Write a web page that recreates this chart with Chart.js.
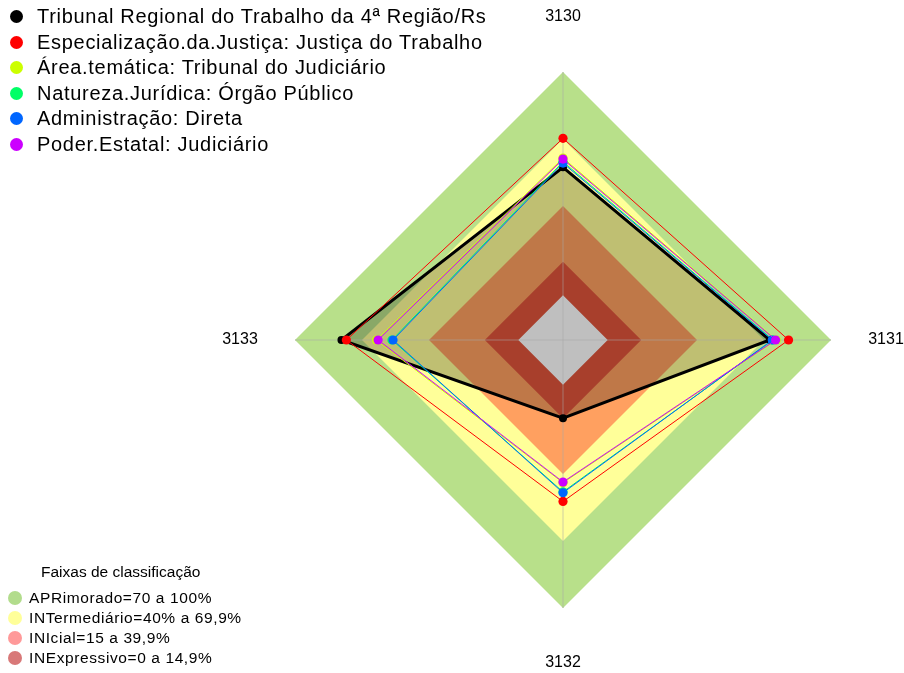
<!DOCTYPE html>
<html>
<head>
<meta charset="utf-8">
<script src="https://cdn.jsdelivr.net/npm/chart.js@4/dist/chart.umd.min.js"></script>
<style>
  html, body { margin: 0; padding: 0; background: #fff; }
  #wrap { position: relative; width: 904px; height: 673px; overflow: hidden; font-family: Arial, "Liberation Sans", sans-serif; }
  #c { position: absolute; left: 0; top: 0; }
  .leg { position: absolute; color: #000; white-space: nowrap; }
  .row { display: flex; align-items: center; }
  .dot { display: inline-block; border-radius: 50%; flex: none; }
</style>
</head>
<body>
<div id="wrap">
  <canvas id="c" width="904" height="673"></canvas>
  <div id="legTop" class="leg" style="left:0; top:4px; font-size:20px; letter-spacing:0.7px;"></div>
  <div id="legBands" class="leg" style="left:0; top:561px; font-size:15.5px; letter-spacing:0.6px;"></div>
</div>
<script>
// ---- data ----
const axisLabels = ["3130", "3131", "3132", "3133"];
const seriesNames = [
  "Tribunal Regional do Trabalho da 4ª Região/Rs",
  "Especialização.da.Justiça: Justiça do Trabalho",
  "Área.temática: Tribunal do Judiciário",
  "Natureza.Jurídica: Órgão Público",
  "Administração: Direta",
  "Poder.Estatal: Judiciário"
];
const trt4            = [57.3, 72.6, 15.0, 79.2];
const justicaTrabalho = [70.3, 81.0, 52.3, 77.0];
const areaTematica    = [61.5, 75.5, 43.9, 63.5];
const naturezaJuridica= [59.8, 74.0, 48.0, 56.6];
const administracao   = [59.2, 73.7, 48.4, 56.1];
const poderEstatal    = [61.0, 75.2, 43.6, 62.8];
const bandUpper = [100, 70, 40, 15];
const bandBase = 0;
const bandTitle = "Faixas de classificação";
const bandNames = ["APRimorado=70 a 100%", "INTermediário=40% a 69,9%", "INIcial=15 a 39,9%", "INExpressivo=0 a 14,9%"];
const scaleMin = -20;
const scaleMax = 100;

// ---- styles ----
const seriesColors = ["#000000", "#FF0000", "#CCFF00", "#00FF66", "#0066FF", "#CC00FF"];
const bandFill = ["#B8E08A", "#FFFF99", "#FFA060", "#E0553B"];
const bandLegendColors = ["#B2DC8C", "#FFFF99", "#FF9999", "#D87878"];

const seriesData = [trt4, justicaTrabalho, areaTematica, naturezaJuridica, administracao, poderEstatal];

const datasets = [];
seriesData.forEach((d, i) => {
  const isMain = i === 0;
  datasets.push({
    label: seriesNames[i],
    data: d,
    borderColor: seriesColors[i],
    backgroundColor: isMain ? "rgba(0,0,0,0.25)" : "rgba(0,0,0,0)",
    fill: isMain ? "start" : false,
    borderWidth: isMain ? 3 : 1,
    pointRadius: isMain ? 4 : 4.6,
    pointBackgroundColor: seriesColors[i],
    pointBorderWidth: 0,
    pointHoverRadius: 4,
    order: seriesData.length - 1 - i
  });
});
bandUpper.forEach((v, i) => {
  datasets.push({
    label: bandNames[i],
    data: axisLabels.map(() => v),
    backgroundColor: bandFill[i],
    borderWidth: 0,
    borderColor: "rgba(0,0,0,0)",
    fill: "start",
    pointRadius: 0,
    order: 20 - i
  });
});
// empty (white) centre below the 0 level
datasets.push({
  label: "base",
  data: axisLabels.map(() => bandBase),
  backgroundColor: "#FFFFFF",
  borderWidth: 0,
  borderColor: "rgba(0,0,0,0)",
  fill: "start",
  pointRadius: 0,
  order: 10
});

// re-draw the scale's angle lines over the bands, under the series
const angleLinePlugin = {
  id: "angleLinePlugin",
  beforeDatasetDraw(chart, args) {
    if (args.index === 0) {
      const s = chart.scales.r;
      chart.ctx.save();
      s.drawGrid();
      chart.ctx.restore();
    }
  }
};

const axisLabelPlugin = {
  id: "axisLabelPlugin",
  afterDraw(chart) {
    const s = chart.scales.r;
    const ctx = chart.ctx;
    ctx.save();
    ctx.font = "16px Arial, 'Liberation Sans', sans-serif";
    ctx.fillStyle = "#000";
    ctx.textAlign = "center";
    ctx.textBaseline = "middle";
    axisLabels.forEach((lab, i) => {
      const p = s.getPointPosition(i, s.drawingArea + 55);
      ctx.fillText(lab, p.x, p.y);
    });
    ctx.restore();
  }
};

new Chart(document.getElementById("c"), {
  type: "radar",
  data: { labels: axisLabels, datasets },
  options: {
    responsive: false,
    devicePixelRatio: 1,
    animation: false,
    events: [],
    layout: { padding: { left: 295, top: 72, right: 72, bottom: 64 } },
    elements: { line: { tension: 0 } },
    plugins: { legend: { display: false }, tooltip: { enabled: false } },
    scales: {
      r: {
        min: scaleMin,
        max: scaleMax,
        ticks: { display: false },
        grid: { display: false },
        angleLines: { display: true, color: "rgba(170,170,170,0.55)", lineWidth: 1 },
        pointLabels: { display: false }
      }
    }
  },
  plugins: [angleLinePlugin, axisLabelPlugin]
});

// ---- HTML legends ----
const legTop = document.getElementById("legTop");
seriesNames.forEach((n, i) => {
  const row = document.createElement("div");
  row.className = "row";
  row.style.height = "25.5px";
  const dot = document.createElement("span");
  dot.className = "dot";
  dot.style.cssText = "width:13px;height:13px;margin-left:10px;margin-right:14px;background:" + seriesColors[i];
  row.appendChild(dot);
  const t = document.createElement("span");
  t.textContent = n;
  row.appendChild(t);
  legTop.appendChild(row);
});

const legBands = document.getElementById("legBands");
const title = document.createElement("div");
title.textContent = bandTitle;
title.style.cssText = "font-size:15.5px;letter-spacing:0;height:27px;line-height:22px;padding-left:41px;";
legBands.appendChild(title);
bandNames.forEach((n, i) => {
  const row = document.createElement("div");
  row.className = "row";
  row.style.height = "20px";
  const dot = document.createElement("span");
  dot.className = "dot";
  dot.style.cssText = "width:14px;height:14px;margin-left:8px;margin-right:7px;background:" + bandLegendColors[i];
  row.appendChild(dot);
  const t = document.createElement("span");
  t.textContent = n;
  row.appendChild(t);
  legBands.appendChild(row);
});
</script>
</body>
</html>
